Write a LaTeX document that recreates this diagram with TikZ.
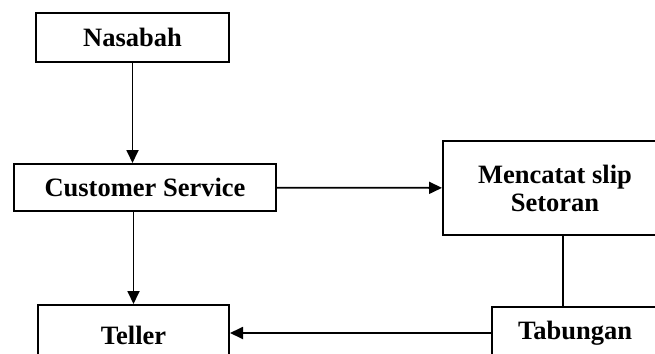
\documentclass[tikz,border=0pt]{standalone}
\usepackage{fontspec}
\setmainfont{Liberation Serif}
\usepackage{tikz}
\usetikzlibrary{positioning}
\usetikzlibrary{arrows.meta}
\usetikzlibrary{calc}

\begin{document}
\begin{tikzpicture}[x=1pt,y=-1pt]
	\useasboundingbox (0,0) rectangle (655,353);
	\clip (0,0) rectangle (655,353);
	\begin{scope}[every node/.style={draw=black,line width=2pt,inner sep=0pt,align=center,
	              font=\fontsize{26.5}{28}\selectfont\bfseries}]
	    \node[minimum width=193pt,minimum height=49pt] (N) at (132.5,37.5) {Nasabah};
	    \node[minimum width=262pt,minimum height=47pt] (CS) at (145,187.5) {Customer Service};
	    \node[minimum width=191pt,minimum height=60pt] (T) at (133.5,335) {Teller};
	    \node[minimum width=224pt,minimum height=94pt] (M) at (555,188) {Mencatat slip\\Setoran};
	    \node[minimum width=166pt,minimum height=52pt] (Tb) at (575,333) {Tabungan};
	\end{scope}

	\begin{scope}[>={Triangle[length=13pt,width=12pt]},
	              every edge/.style={draw=black,line width=1.8pt}]
    	\path [->] (N) edge (N.south |- CS.north);
    	\path [->] (T.north |- CS.south) edge (T);
    	\path [->] (CS) edge (M);
    	\path ([xshift=8pt]M.south) edge ([xshift=-12pt]Tb.north);
    	\path [->] (Tb) edge (Tb.west -| T.east);
	\end{scope}
\end{tikzpicture}
\end{document}
